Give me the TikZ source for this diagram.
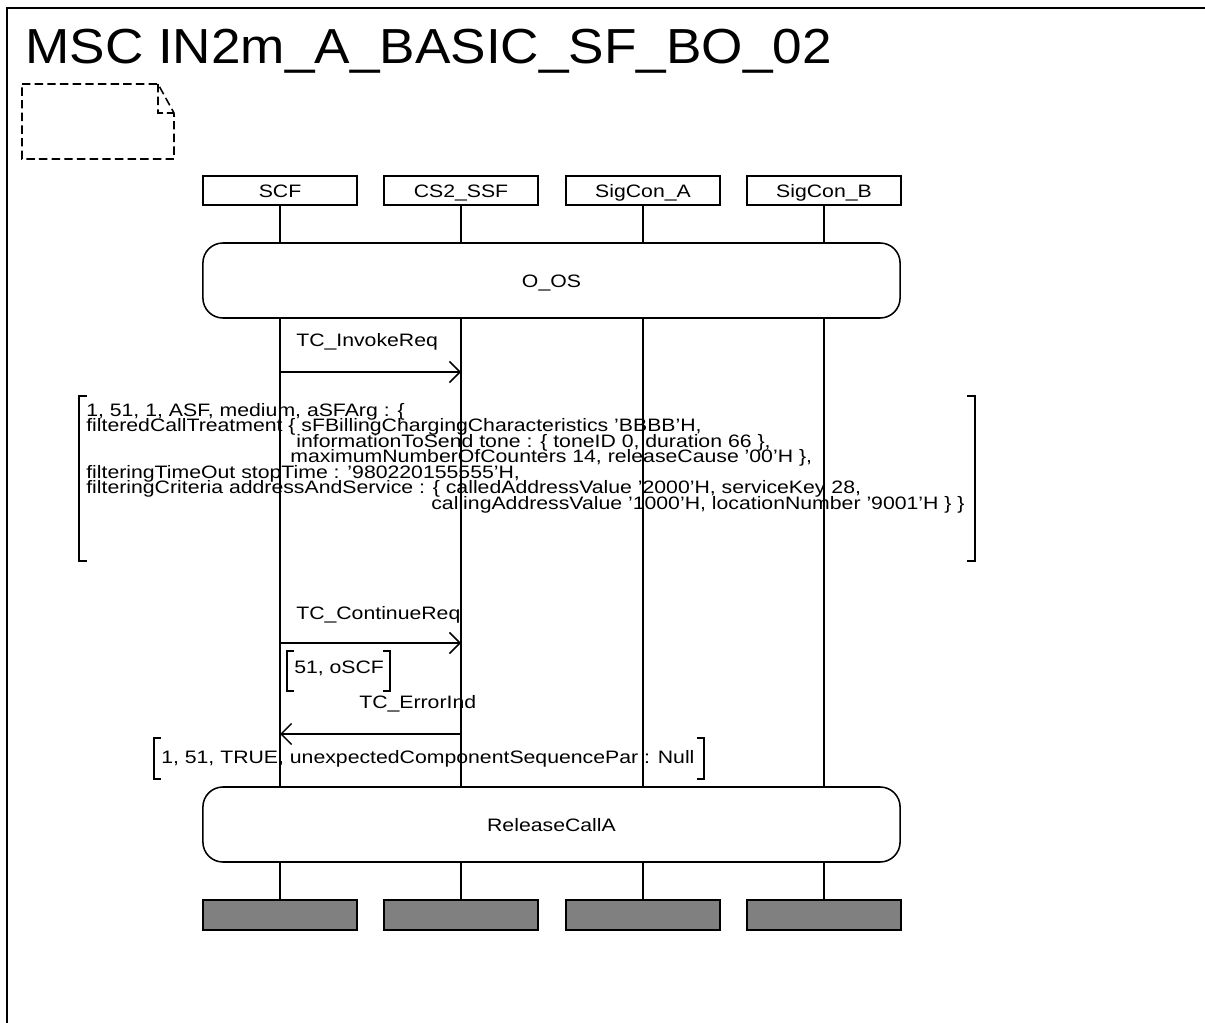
\documentclass[tikz,border=0pt]{standalone}
\usepackage{fontspec}
\setmainfont{Liberation Sans}[FakeStretch=1.18]
\newfontfamily\titlefont{Liberation Sans}[FakeStretch=1.08]
\usetikzlibrary{arrows.meta}
\setlength{\lineskiplimit}{-20pt}
\begin{document}
\begin{tikzpicture}[x=0.025cm,y=-0.025cm,font=\fontsize{12.8}{11}\selectfont]
        \tikzset{inst/.style={draw,line width=1.1pt,minimum width=3.85cm,minimum height=0.725cm,inner sep=0pt,text height=13.4pt,text depth=3pt}}
        \tikzset{endbox/.style={draw,line width=1.5pt,fill=black!50,minimum width=3.85cm,minimum height=0.75cm,inner sep=0pt}}
        \tikzset{cond/.style={draw,line width=1.1pt,rounded corners=0.5cm,minimum width=17.425cm,minimum height=1.875cm,text height=13.4pt,text depth=3pt}}
        \tikzset{life/.style={line width=1.1pt}}
        \tikzset{msg/.style={line width=1.1pt,-{Straight Barb[length=7.5pt,width=15pt]}}}
        \tikzset{lbl/.style={inner sep=0pt,anchor=base west}}
        \tikzset{brk/.style={line width=1.1pt}}
        \useasboundingbox (0,0) rectangle (1205,1023);
        % frame and title
        \draw[line width=1.5pt] (7,1023) -- (7,8) -- (1205,8);
        \node[lbl,font=\titlefont\fontsize{35}{40}\selectfont] (title) at (25,64) {MSC IN2m\_A\_BASIC\_SF\_BO\_02};
        \draw[line width=1.1pt,dash pattern=on 6pt off 3pt] (22,84) -- (158,84) -- (174,113) -- (174,159) -- (22,159) -- cycle
            (158,84) -- (158,113) -- (174,113);
        % instances
        \node[inst] (SCF) at (280,190.5) {SCF};
        \node[inst] (SSF) at (461,190.5) {CS2\_SSF};
        \node[inst] (SCA) at (643,190.5) {SigCon\_A};
        \node[inst] (SCB) at (824,190.5) {SigCon\_B};
        \node[cond] (OOS) at (551.5,280.5) {O\_OS};
        \node[cond] (RCA) at (551.5,824.5) {ReleaseCallA};
        \foreach \i in {SCF,SSF,SCA,SCB} {
            \node[endbox] (\i end) at (\i |- 0,915) {};
            \draw[life] (\i.south) -- (\i.south |- OOS.north);
            \draw[life] (\i.south |- OOS.south) -- (\i.south |- RCA.north);
            \draw[life] (\i.south |- RCA.south) -- (\i end.north);
        }
        % TC_InvokeReq
        \node[lbl] (invoke) at (296,347) {TC\_InvokeReq};
        \draw[msg] (SCF |- 0,372) -- (SSF |- 0,372);
        \draw[brk] (87,396) -- (79,396) -- (79,561) -- (87,561);
        \draw[brk] (967,396) -- (975,396) -- (975,561) -- (967,561);
        \node[inner sep=0pt,anchor=north west,align=left] (asfArg) at (86,403) {1, 51, 1, ASF, medium, aSFArg : \{\\
            filteredCallTreatment \{ sFBillingChargingCharacteristics ’BBBB’H,\\
            \hspace*{5.25cm}informationToSend tone : \{ toneID 0, duration 66 \},\\
            \hspace*{5.1cm}maximumNumberOfCounters 14, releaseCause ’00’H \},\\
            filteringTimeOut stopTime : ’980220155555’H,\\
            filteringCriteria addressAndService : \{ calledAddressValue ’2000’H, serviceKey 28,\\
            \hspace*{8.625cm}callingAddressValue ’1000’H, locationNumber ’9001’H \} \}};
        % TC_ContinueReq
        \node[lbl] (cont) at (296,619) {TC\_ContinueReq};
        \draw[msg] (SCF |- 0,643) -- (SSF |- 0,643);
        \draw[brk] (294,651) -- (287,651) -- (287,691) -- (294,691);
        \draw[brk] (383,651) -- (390,651) -- (390,691) -- (383,691);
        \node[lbl] (oscf) at (294,673) {51, oSCF};
        % TC_ErrorInd
        \node[lbl] (err) at (359,708) {TC\_ErrorInd};
        \draw[msg] (SSF |- 0,734) -- (SCF |- 0,734);
        \draw[brk] (161,738) -- (154,738) -- (154,779) -- (161,779);
        \draw[brk] (697,738) -- (704,738) -- (704,779) -- (697,779);
        \node[lbl] (errArg) at (161,763) {1, 51, TRUE, unexpectedComponentSequencePar : Null};
\end{tikzpicture}
\end{document}
